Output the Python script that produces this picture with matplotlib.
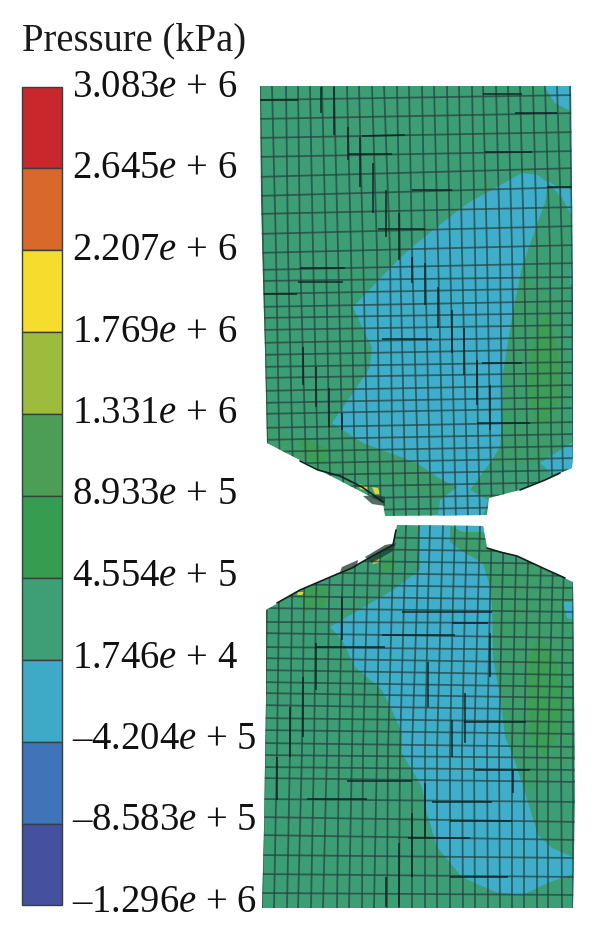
import matplotlib
matplotlib.use("Agg")
import matplotlib.pyplot as plt
from matplotlib.patches import Polygon
from matplotlib.collections import LineCollection

plt.rcParams['font.family'] = ['Liberation Serif', 'DejaVu Serif']
plt.rcParams['mathtext.fontset'] = 'custom'
plt.rcParams['mathtext.rm'] = 'Liberation Serif'
plt.rcParams['mathtext.it'] = 'Liberation Serif:italic'

# ---- legend data ----
legend_title = "Pressure (kPa)"
level_labels = ["3.083$e$ + 6", "2.645$e$ + 6", "2.207$e$ + 6", "1.769$e$ + 6", "1.331$e$ + 6",
                "8.933$e$ + 5", "4.554$e$ + 5", "1.746$e$ + 4", "\u20134.204$e$ + 5",
                "\u20138.583$e$ + 5", "\u20131.296$e$ + 6"]
level_edges_px = [87, 168, 250, 332, 414, 496, 578, 660, 742, 824, 905]
level_baselines_px = [97, 178.5, 260, 341.5, 423, 504.5, 586, 667.5, 749, 830.5, 912]
band_colors = ["#C8282C", "#D8692A", "#F6DC2C", "#9DBC3E", "#4C9E55",
               "#369C50", "#3E9E75", "#3FAAC8", "#3F74B8", "#45509E"]

# ---- outlines of the two deformed parts (image pixels) ----
upper_x = [260, 571, 572, 573, 573, 572, 520, 489, 487, 385, 383, 267, 265, 263, 261]
upper_y = [86, 86, 190, 300, 453, 468, 490, 498, 515, 516, 503, 443, 350, 280, 200]
lower_x = [397, 483, 487, 517, 573, 575, 573, 262, 264, 266, 266, 300, 357, 393]
lower_y = [525, 526, 548, 556, 582, 800, 908, 908, 830, 700, 610, 590, 565, 545]

# ---- contour regions ----
COL_BASE = "#3C9E74"
COL_CYAN = "#3FAECB"
COL_MID = "#3E9E6B"
COL_DEEP = "#3C9E55"
COL_YEL = "#D9D93A"
regions = [
    (COL_MID, [267, 278, 297, 333, 363, 417, 437, 457, 440, 383, 343, 300, 267],
              [430, 428, 440, 450, 440, 463, 477, 490, 500, 480, 477, 460, 443]),
    (COL_MID, [505, 504, 512, 522, 560, 570, 560, 540, 490],
              [430, 375, 320, 275, 300, 380, 440, 463, 465]),
    (COL_DEEP, [298, 310, 330, 325, 305], [438, 440, 450, 465, 458]),
    (COL_CYAN, [522, 468, 442, 412, 398, 372, 353, 362, 372, 370, 355, 332, 363, 417, 437, 457, 440, 438,
                483, 488, 470, 490, 500, 502, 503, 512, 522, 535, 545, 548, 538],
               [173, 203, 223, 247, 260, 287, 307, 327, 347, 367, 390, 423, 443, 463, 477, 487, 500, 516,
                516, 500, 490, 463, 447, 427, 373, 317, 267, 230, 203, 183, 175]),
    (COL_CYAN, [546, 556, 573, 573, 562], [180, 186, 190, 218, 198]),
    (COL_CYAN, [543, 572, 572, 555], [85, 85, 112, 103]),
    (COL_CYAN, [540, 573, 573, 552], [463, 442, 468, 474]),
    (COL_CYAN, [571, 574, 574, 570], [268, 268, 284, 284]),
    (COL_DEEP, [547, 538, 530, 528, 535, 548, 560, 560, 557], [313, 327, 357, 393, 420, 423, 397, 363, 343]),
    (COL_YEL, [358, 367, 369, 360], [484, 486, 491, 489]),
    (COL_YEL, [372, 378, 380, 375], [487, 488, 494, 494]),
    (COL_MID, [450, 484, 492, 530, 575, 575, 530, 512, 492],
              [530, 530, 565, 560, 590, 760, 790, 753, 607]),
    (COL_DEEP, [298, 328, 325, 305], [588, 586, 607, 612]),
    (COL_DEEP, [378, 395, 395, 380], [560, 556, 570, 572]),
    (COL_CYAN, [420, 450, 450, 463, 483, 490, 492, 493, 500, 505, 512, 522, 538, 552, 575, 575, 548, 522, 495,
                462, 437, 427, 422, 402, 402, 392, 382, 355, 342, 330, 393, 420],
               [525, 525, 542, 552, 563, 587, 607, 657, 697, 737, 753, 783, 835, 848, 858, 873, 883, 895, 892,
                877, 847, 813, 787, 753, 733, 710, 690, 667, 640, 627, 590, 570]),
    (COL_CYAN, [450, 485, 485, 462], [525, 525, 532, 532]),
    (COL_CYAN, [563, 575, 575, 567], [602, 602, 620, 618]),
    (COL_DEEP, [538, 530, 527, 530, 545, 558, 562, 558, 548], [637, 657, 690, 737, 757, 735, 703, 665, 645]),
    (COL_YEL, [374, 381, 378, 372], [560, 558, 563, 564]),
    (COL_YEL, [298, 304, 302, 297], [592, 592, 595, 595]),
]

# ---- mesh of the upper part: column x at four heights, row y at the two sides ----
upper_col_heights = [86, 250, 430, 520]
upper_cols = [
    [260, 272, 286, 298, 310, 322, 334, 347, 359, 372, 384, 397, 409, 422, 434, 447, 459, 472, 483, 496, 508, 520, 533, 545, 557, 570],
    [263, 276, 288, 300, 313, 326, 338, 351, 363, 377, 390, 400, 412, 425, 438, 450, 462, 475, 487, 500, 512, 524, 537, 550, 562, 572],
    [267, 279, 292, 305, 317, 329, 342, 354, 367, 379, 392, 404, 417, 429, 442, 454, 466, 478, 490, 502, 515, 527, 538, 551, 562, 573],
    [269, 281, 294, 307, 319, 331, 344, 356, 369, 381, 394, 406, 419, 431, 444, 456, 468, 480, 492, 504, 517, 529, 540, 553, 564, 575],
]
upper_rows_left = [100, 119, 138, 157, 177, 196, 214, 234, 253, 270, 281, 294, 307, 318, 330, 343, 355, 367, 378,
                   391, 403, 414, 428, 440, 452, 464, 476, 488, 500, 512]
upper_rows_right = [95, 113, 132, 151, 168, 187, 207, 226, 245, 263, 277, 288, 301, 313, 325, 337, 349, 362, 373,
                    385, 397, 408, 422, 434, 446, 458, 470, 482, 494, 506]

# ---- mesh of the lower part ----
lower_col_heights = [525, 600, 750, 908]
lower_cols = [
    [269, 281, 294, 306, 318, 331, 344, 356, 369, 381, 394, 406, 419, 430, 443, 455, 467, 480, 492, 504, 517, 529, 542, 554, 565, 575],
    [267, 279, 292, 304, 316, 329, 342, 354, 367, 379, 392, 404, 417, 428, 441, 453, 465, 478, 490, 502, 515, 527, 540, 552, 563, 573],
    [265, 277, 290, 302, 314, 327, 339, 352, 363, 377, 388, 400, 412, 425, 437, 450, 462, 474, 487, 499, 512, 524, 537, 548, 561, 573],
    [262, 274, 287, 298, 311, 323, 337, 349, 362, 374, 387, 399, 412, 425, 437, 450, 463, 475, 488, 500, 512, 524, 537, 548, 562, 573],
]
lower_rows_left = [536, 548, 560, 572, 584, 596, 608, 622, 633, 647, 658, 670, 682, 693, 705, 718, 730, 743, 755,
                   767, 778, 799, 817, 835, 855, 874, 893]
lower_rows_right = [540, 552, 564, 576, 588, 600, 612, 623, 638, 650, 663, 675, 687, 698, 710, 722, 734, 747, 758,
                    770, 782, 802, 822, 840, 858, 877, 895]

# ---- darker mesh edges: x0, y0, x1, y1 ----
dark_edges = [
    (260, 100, 298, 100), (321, 87, 321, 113), (334, 87, 334, 135), (348, 127, 348, 160), (360, 137, 360, 187),
    (373, 163, 373, 213), (386, 190, 386, 237), (399, 213, 399, 260), (362, 136, 405, 135), (348, 154, 392, 154),
    (378, 229, 425, 229), (412, 190, 452, 190), (485, 152, 532, 152), (547, 187, 573, 187), (515, 113, 557, 113),
    (483, 94, 522, 94), (300, 268, 345, 268), (298, 282, 343, 282), (264, 294, 297, 294), (412, 257, 412, 283),
    (425, 263, 425, 305), (438, 287, 438, 328), (452, 310, 452, 353), (464, 328, 464, 375), (477, 360, 477, 405),
    (490, 385, 490, 430), (382, 339, 432, 339), (482, 363, 522, 363), (477, 423, 530, 423), (303, 347, 303, 385),
    (316, 367, 316, 407), (329, 388, 329, 427), (342, 413, 342, 430),
    (315, 647, 385, 647), (464, 722, 526, 722), (342, 597, 342, 640), (303, 677, 303, 737), (316, 643, 316, 690),
    (290, 707, 290, 757), (382, 635, 455, 635), (402, 612, 492, 612), (452, 623, 488, 623), (428, 662, 428, 707),
    (465, 693, 465, 743), (452, 720, 452, 757), (490, 633, 490, 677), (307, 799, 367, 799), (347, 781, 412, 781),
    (408, 838, 470, 838), (450, 877, 508, 877), (450, 821, 512, 821), (425, 783, 425, 837), (412, 813, 412, 877),
    (399, 843, 399, 907), (386, 877, 386, 907), (277, 757, 277, 800), (263, 770, 263, 833), (475, 770, 530, 770),
    (432, 802, 492, 802), (513, 770, 513, 793),
]
# crumpled elements along the chamfers: x list, y list
crumple_paths = [
    ([300, 318, 340, 362, 372, 383], [461, 470, 476, 487, 494, 502]),
    ([520, 530, 545, 560], [490, 486, 480, 473]),
    ([277, 300, 335, 352, 362, 378, 393, 396], [603, 590, 575, 568, 562, 553, 545, 530]),
    ([487, 500, 517, 545, 565], [548, 552, 556, 569, 578]),
]
crumple_patches = [
    ([363, 377, 385, 385, 372], [496, 495, 497, 506, 504]),
    ([342, 358, 357, 340], [567, 560, 566, 572]),
    ([365, 385, 396, 393, 372], [557, 545, 543, 551, 563]),
]

fig = plt.figure(figsize=(6.0, 9.34), dpi=100)
ax = fig.add_axes([0, 0, 1, 1])
ax.set_xlim(0, 600)
ax.set_ylim(934, 0)
ax.axis("off")

# legend
ax.text(22, 50, legend_title, fontsize=27.8, color="#1a1a1a", ha="left", va="baseline")
for i, colour in enumerate(band_colors):
    ax.bar(42, level_edges_px[i + 1] - level_edges_px[i], width=40, bottom=level_edges_px[i],
           color=colour, edgecolor="#35403f", linewidth=1.0, zorder=2)
for label, base in zip(level_labels, level_baselines_px):
    ax.text(72.5, base, label, fontsize=27.8, color="#111111", ha="left", va="baseline")


def draw_part(xs, ys, col_heights, cols, rows_l, rows_r, lz):
    body = Polygon(list(zip(xs, ys)), closed=True, facecolor=COL_BASE, edgecolor="none", zorder=lz)
    ax.add_patch(body)
    for colour, rx, ry in regions:
        p = Polygon(list(zip(rx, ry)), closed=True, facecolor=colour, edgecolor="none", zorder=lz + 1)
        ax.add_patch(p)
        p.set_clip_path(body)
    segs = []
    for c in range(len(cols[0])):
        segs.append([(cols[k][c], col_heights[k]) for k in range(len(col_heights))])
    left = min(xs) - 5
    right = max(xs) + 5
    for yl, yr in zip(rows_l, rows_r):
        segs.append([(left, yl), (right, yr)])
    lc = LineCollection(segs, colors="#27423f", linewidths=1.3, alpha=0.72, zorder=lz + 2)
    ax.add_collection(lc)
    lc.set_clip_path(body)
    dark = LineCollection([[(a, b), (c, d)] for a, b, c, d in dark_edges], colors="#0d1f20",
                          linewidths=1.2, alpha=0.85, zorder=lz + 3)
    ax.add_collection(dark)
    dark.set_clip_path(body)


draw_part(upper_x, upper_y, upper_col_heights, upper_cols, upper_rows_left, upper_rows_right, 3)
draw_part(lower_x, lower_y, lower_col_heights, lower_cols, lower_rows_left, lower_rows_right, 8)

for px, py in crumple_paths:
    ax.plot(px, py, color="#10201c", linewidth=1.2, zorder=14, solid_capstyle="round")
for px, py in crumple_patches:
    ax.add_patch(Polygon(list(zip(px, py)), closed=True, facecolor="#1c3a30", edgecolor="none", alpha=0.75, zorder=13))

fig.savefig("out.png", dpi=100)
